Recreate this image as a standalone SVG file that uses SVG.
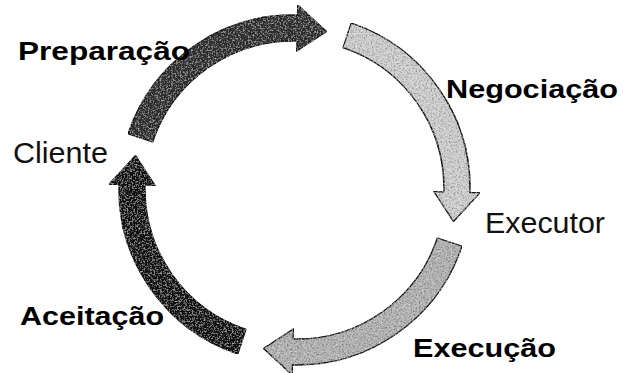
<svg xmlns="http://www.w3.org/2000/svg" width="623" height="373" viewBox="0 0 623 373">
  <defs>
    <!-- stippled fill for the cycle arrows: faint dark and light specks on the flat fill -->
    <filter id="grain" x="0" y="0" width="1" height="1">
      <feTurbulence type="fractalNoise" baseFrequency="0.6" numOctaves="2" seed="5" result="noise"/>
      <feColorMatrix in="noise" type="matrix" values="0 0 0 0 0  0 0 0 0 0  0 0 0 0 0  1.6 0 0 0 -0.72" result="dark"/>
      <feColorMatrix in="noise" type="matrix" values="0 0 0 0 1  0 0 0 0 1  0 0 0 0 1  0 1.1 0 0 -0.54" result="light"/>
      <feComposite in="dark" in2="SourceAlpha" operator="in" result="darkIn"/>
      <feComposite in="light" in2="SourceAlpha" operator="in" result="lightIn"/>
      <feMerge>
        <feMergeNode in="SourceGraphic"/>
        <feMergeNode in="darkIn"/>
        <feMergeNode in="lightIn"/>
      </feMerge>
    </filter>
    <!-- one curved arrow on a circle centred at (293,189); the others are rotations -->
    <path id="arc-arrow" d="M 128.0 133.8 A 174 174 0 0 1 297.56 15.06 L 297.82 5.06 L 326.47 31.52 L 296.61 51.05 L 296.87 41.05 A 148 148 0 0 0 152.65 142.04 Z"/>
  </defs>
  <style>
    .arrow { stroke: #1a1a1a; stroke-width: 1.3; stroke-linejoin: miter; filter: url(#grain); }
    .bold { font-family: "Liberation Sans", Arial, sans-serif; font-weight: bold; font-size: 26px; fill: #000; }
    .node { font-family: "Liberation Sans", Arial, sans-serif; font-size: 29px; fill: #111; }
  </style>
  <rect width="623" height="373" fill="#ffffff"/>

  <g id="connectors">
    <g id="preparacao">
      <use href="#arc-arrow" class="arrow" fill="#333333"/>
      <text class="bold" x="18" y="60" textLength="172" lengthAdjust="spacingAndGlyphs">Preparação</text>
    </g>
    <g id="negociacao">
      <use href="#arc-arrow" class="arrow" fill="#d0d0d0" transform="rotate(90 295 190)"/>
      <text class="bold" x="446" y="98" textLength="172" lengthAdjust="spacingAndGlyphs">Negociação</text>
    </g>
    <g id="execucao">
      <use href="#arc-arrow" class="arrow" fill="#b4b4b4" transform="rotate(180 295 190)"/>
      <text class="bold" x="413" y="357" textLength="143" lengthAdjust="spacingAndGlyphs">Execução</text>
    </g>
    <g id="aceitacao">
      <use href="#arc-arrow" class="arrow" fill="#191919" transform="rotate(270 293 189)"/>
      <text class="bold" x="20" y="325" textLength="144" lengthAdjust="spacingAndGlyphs">Aceitação</text>
    </g>
  </g>

  <g id="cliente">
    <text class="node" x="13" y="163" textLength="95" lengthAdjust="spacingAndGlyphs">Cliente</text>
  </g>
  <g id="executor">
    <text class="node" x="485" y="233" textLength="120" lengthAdjust="spacingAndGlyphs">Executor</text>
  </g>
</svg>
